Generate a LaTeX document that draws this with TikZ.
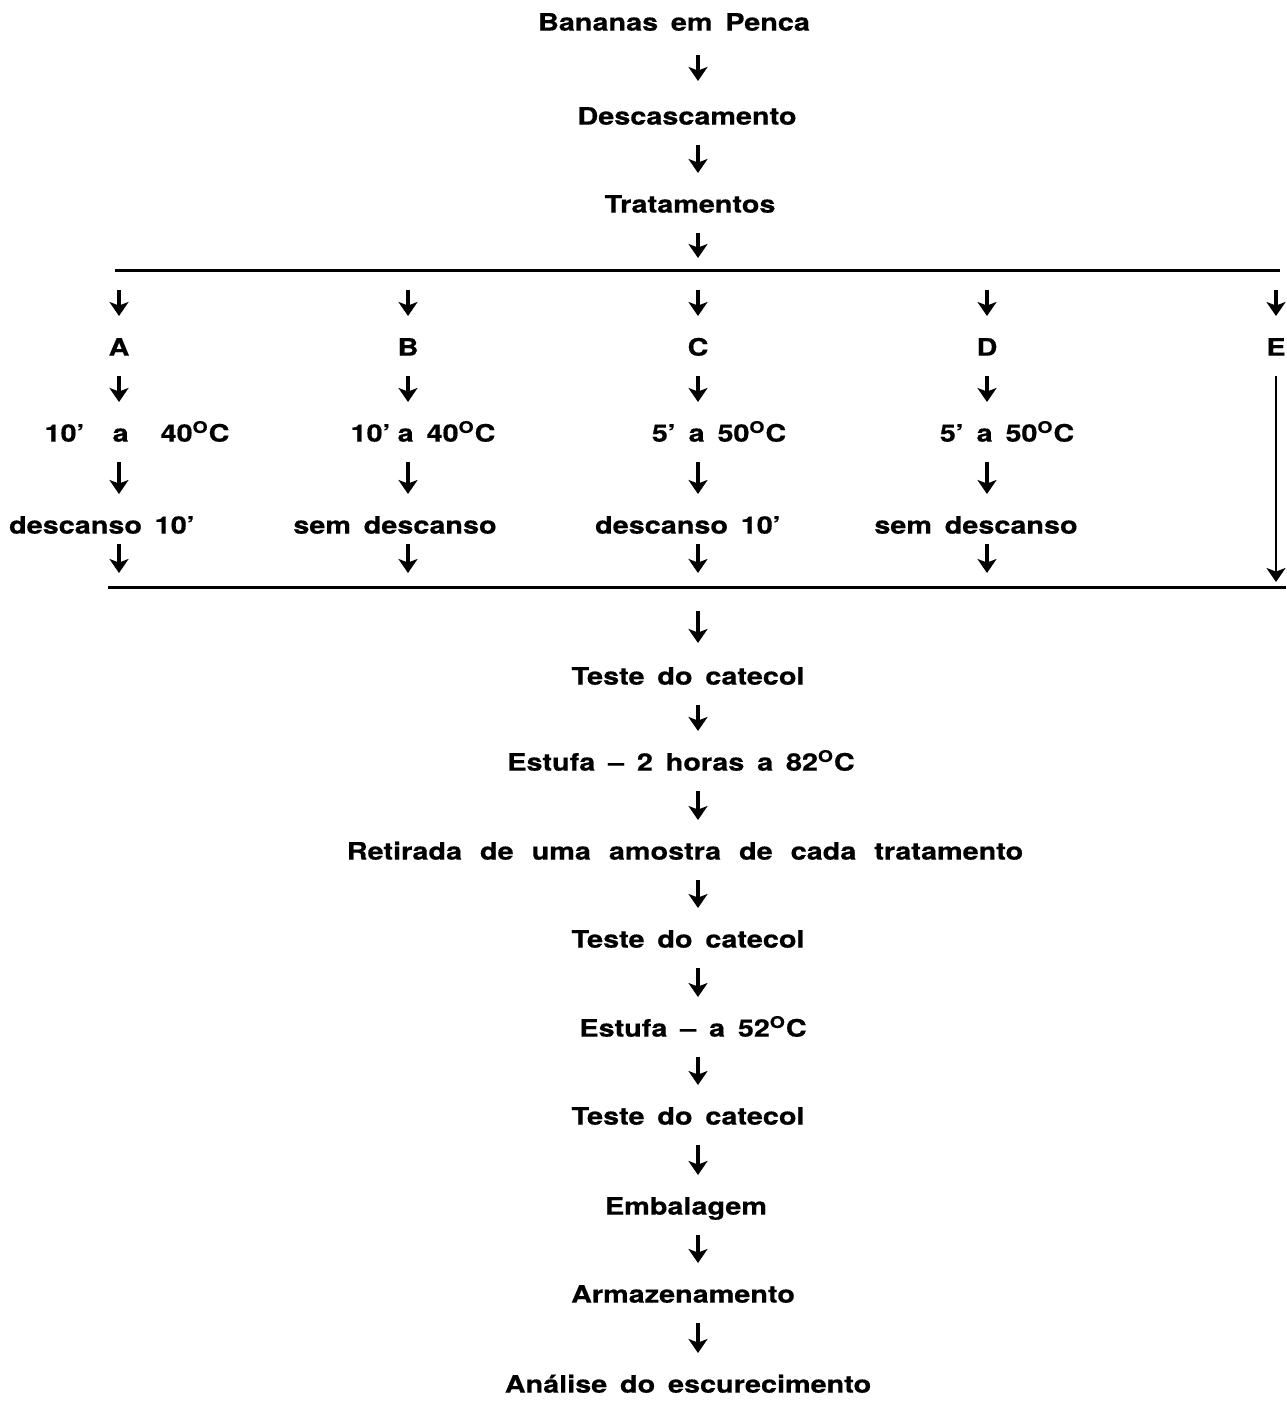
\documentclass[tikz,border=0pt]{standalone}
\usepackage{fontspec}
\setmainfont{TeX Gyre Heros}[FakeStretch=1.2, WordSpace=1.6, BoldFeatures={FakeBold=0.5}]
\newfontfamily\widefont{TeX Gyre Heros}[FakeStretch=1.2, WordSpace=2.25, BoldFeatures={FakeBold=0.5}]
\usetikzlibrary{arrows.meta}
\newcommand{\grau}{\textsuperscript{O}}

\tikzset{
  txt/.style={font=\bfseries\fontsize{12}{14}\selectfont, inner sep=0pt,
    text height=8.6pt, text depth=0pt},
  widetxt/.style={txt, font=\widefont\bfseries\fontsize{12}{14}\selectfont},
  flow/.style={line width=1.7pt, -{Stealth[length=7pt,width=9.5pt,inset=1.8pt]},
    shorten <=10pt, shorten >=11pt},
  rule/.style={line width=1.5pt},
}

\begin{document}
\begin{tikzpicture}[x=0.5pt, y=-0.5pt]
  \useasboundingbox (0,0) rectangle (1286,1402);
  \coordinate (ax) at (698,0);

  \node[txt] (penca) at (674,22) {Bananas em Penca};
  \node[txt] (desc) at (687,116) {Descascamento};
  \node[txt] (trat) at (690,204) {Tratamentos};

  \coordinate (top1) at (115,270);
  \coordinate (top2) at (1280,270);
  \coordinate (bot1) at (108,587);
  \coordinate (bot2) at (1286,587);
  \draw[rule] (top1) -- (top2);
  \draw[rule] (bot1) -- (bot2);

  \draw[flow, shorten <=12pt, shorten >=13pt] (ax |- penca.south) -- (ax |- desc.north);
  \draw[flow] (ax |- desc.south) -- (ax |- trat.north);
  \draw[flow, shorten >=6pt] (ax |- trat.south) -- (ax |- top1);

  % tratamentos A a D
  \foreach \c/\x/\tx/\temp/\rx/\rest in {
      A/119/137/{10’\hspace{14pt}a\hspace{16pt}40\grau C}/102/{descanso 10’},
      B/408/423/{10’\hspace{3.5pt}a\hspace{6.5pt}40\grau C}/395/{sem descanso},
      C/698/719/{5’ a 50\grau C}/688/{descanso 10’},
      D/987/1007/{5’ a 50\grau C}/976/{sem descanso}} {
    \coordinate (col\c) at (\x,270);
    \node[txt] (\c) at (\x,347) {\c};
    \node[txt] (t\c) at (\tx,433) {\temp};
    \node[txt] (r\c) at (\rx,525) {\rest};
    \draw[flow] (col\c) -- (col\c |- \c.north);
    \draw[flow] (\c) -- (col\c |- t\c.north);
    \draw[flow] (col\c |- t\c.south) -- (col\c |- r\c.north);
    \draw[flow, shorten <=5pt, shorten >=7pt] (col\c |- r\c.south) -- (col\c |- bot1);
  }

  % tratamento E
  \coordinate (colE) at (1276,270);
  \node[txt] (E) at (1276,347) {E};
  \draw[flow] (colE) -- (E);
  \draw[flow, line width=1.3pt, shorten <=10pt, shorten >=2.5pt] (E) -- (colE |- bot1);

  \node[txt] (teste1) at (688,676) {Teste do catecol};
  \node[txt] (estufa1) at (681,762) {Estufa -- 2 horas a 82\grau C};
  \node[widetxt] (retir) at (685,851) {Retirada de uma amostra de cada tratamento};
  \node[txt] (teste2) at (688,939) {Teste do catecol};
  \node[txt] (estufa2) at (693,1028) {Estufa -- a 52\grau C};
  \node[txt] (teste3) at (688,1116) {Teste do catecol};
  \node[txt] (emb) at (686,1206) {Embalagem};
  \node[txt] (armaz) at (683,1294) {Armazenamento};
  \node[txt] (anal) at (688,1384) {Análise do escurecimento};

  \draw[flow, shorten <=12pt, shorten >=12pt] (ax |- bot1) -- (ax |- teste1.north);
  \foreach \a/\b in {teste1/estufa1, estufa1/retir, retir/teste2, teste2/estufa2,
      estufa2/teste3, teste3/emb, emb/armaz, armaz/anal}
    \draw[flow] (ax |- \a.south) -- (ax |- \b.north);
\end{tikzpicture}
\end{document}
